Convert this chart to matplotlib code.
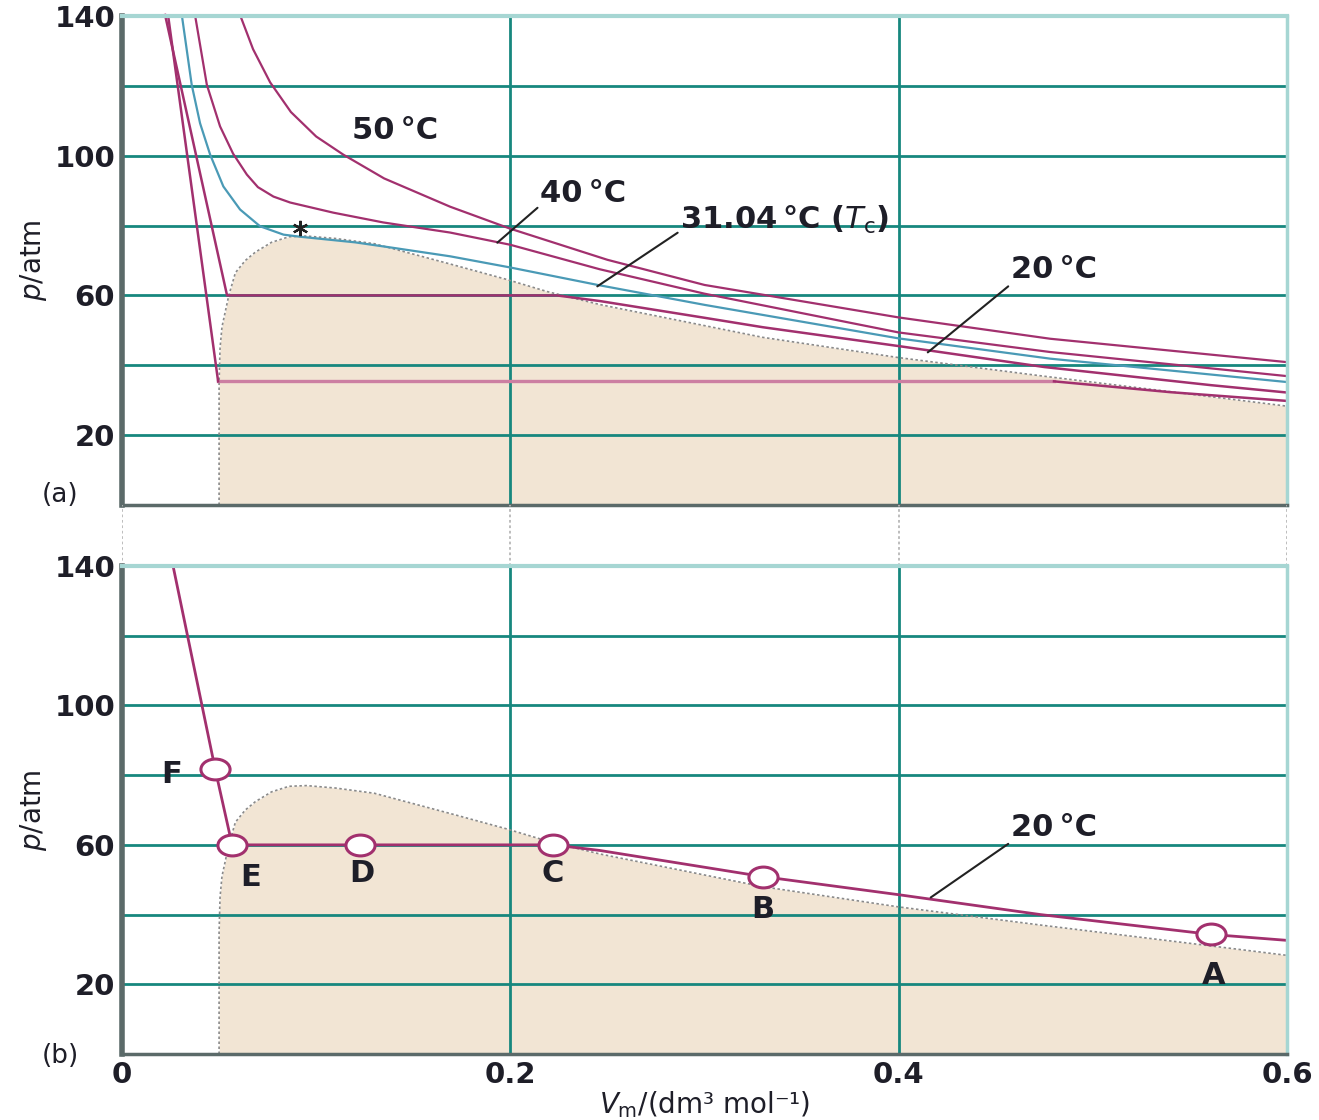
import matplotlib
matplotlib.use('Agg')
import matplotlib.pyplot as plt
from matplotlib.markers import MarkerStyle
from matplotlib.transforms import Affine2D

# CO2 isotherms (V_m in dm3/mol, p in atm)
v50 = [0.0608, 0.0675, 0.0763, 0.087, 0.100, 0.114, 0.135, 0.169, 0.200, 0.250, 0.300, 0.400, 0.478, 0.600]
p50 = [140.3, 130.5, 121.0, 112.5, 105.5, 100.3, 93.5, 85.4, 79.1, 70.2, 63.0, 53.7, 47.6, 40.9]

v40 = [0.0376, 0.0437, 0.0505, 0.0572, 0.0643, 0.0700, 0.0780, 0.0866, 0.1088, 0.1345, 0.169,
       0.200, 0.246, 0.300, 0.400, 0.478, 0.600]
p40 = [140.3, 120.3, 108.4, 100.6, 94.6, 91.0, 88.3, 86.6, 83.7, 80.9, 78.0,
       74.5, 67.5, 60.5, 49.4, 43.8, 36.9]

v31 = [0.0308, 0.0359, 0.0402, 0.0454, 0.0522, 0.0608, 0.0711, 0.0832, 0.0918, 0.120, 0.140,
       0.169, 0.200, 0.245, 0.300, 0.400, 0.478, 0.600]
p31 = [140.3, 120.3, 109.3, 100.3, 91.2, 84.6, 79.8, 77.4, 76.8, 75.2, 73.6,
       71.2, 68.0, 63.0, 57.3, 47.7, 41.9, 35.2]

v20 = [0.0222, 0.0541, 0.224, 0.246, 0.300, 0.330, 0.400, 0.475, 0.561, 0.600]
p20 = [140.3, 60.0, 60.0, 58.4, 53.6, 50.9, 45.5, 39.5, 34.3, 32.2]

# lowest isotherm of panel (a): steep branch, pale plateau, tail
v_low = [0.0237, 0.0495, 0.480, 0.540, 0.600]
p_low = [140.3, 35.4, 35.4, 32.3, 29.8]

# two-phase envelope
dome_v = [0.050, 0.050, 0.050, 0.0505, 0.0515, 0.055, 0.0584, 0.0635, 0.0687, 0.077, 0.086, 0.095,
          0.110, 0.130, 0.169, 0.198, 0.219, 0.246, 0.330, 0.400, 0.473, 0.561, 0.600]
dome_p = [0, 20, 35, 45, 51, 60, 66.5, 70.0, 72.4, 75.2, 76.8, 77.0,
          76.3, 74.8, 69.0, 64.6, 61.1, 57.4, 48.0, 42.2, 37.0, 31.0, 28.3]
crit_v, crit_p = 0.0918, 79.4

# panel (b): 20 C isotherm with the points A..F
v20b = [0.0263, 0.048, 0.0567, 0.1227, 0.222, 0.246, 0.330, 0.400, 0.473, 0.561, 0.600]
p20b = [140, 81.7, 60, 60, 60, 58.4, 50.9, 45.7, 40.0, 34.3, 32.6]
pts_v = [0.561, 0.330, 0.222, 0.1227, 0.0567, 0.048]
pts_p = [34.3, 50.9, 60, 60, 60, 81.7]
pts_lbl = ['A', 'B', 'C', 'D', 'E', 'F']
pts_lbl_v = [0.562, 0.330, 0.222, 0.1237, 0.066, 0.0258]
pts_lbl_p = [22.6, 41.4, 51.7, 51.7, 50.6, 80.3]

yticks = [20, 40, 60, 80, 100, 120, 140]
ylabels = ['20', '', '60', '', '100', '', '140']
xticks = [0, 0.2, 0.4, 0.6]

PURPLE = '#a2306e'
PINK = '#cc7fa2'
TEAL_CURVE = '#4a9ab6'
GRID = '#17877e'
LIGHT = '#a6d6d3'
SPINE = '#5b6a69'
FILL = '#f2e5d4'
TXT = '#1e1e28'

plt.rcParams['font.family'] = ['DejaVu Sans']
plt.rcParams['mathtext.fontset'] = 'dejavusans'

fig = plt.figure(figsize=(13.19, 11.20), dpi=100)
left, width = 122 / 1319, 1165 / 1319
ax1 = fig.add_axes([left, 1 - 505 / 1120, width, 489 / 1120])
gap = fig.add_axes([left, 1 - 566 / 1120, width, 61 / 1120])
ax2 = fig.add_axes([left, 1 - 1054 / 1120, width, 488 / 1120])


def style(ax, show_x):
    ax.set_xlim(0, 0.6)
    ax.set_ylim(0, 140)
    ax.set_yticks(yticks)
    ax.set_yticklabels(ylabels)
    ax.set_xticks(xticks)
    if show_x:
        ax.set_xticklabels(['0', '0.2', '0.4', '0.6'])
    else:
        ax.set_xticklabels([])
    ax.tick_params(length=0, labelsize=21, colors=TXT, pad=5)
    for lab in ax.get_yticklabels() + ax.get_xticklabels():
        lab.set_fontweight('bold')
    ax.set_axisbelow(True)
    ax.grid(True, color=GRID, lw=2.0)
    ax.spines['left'].set_color(SPINE)
    ax.spines['left'].set_linewidth(4)
    ax.spines['bottom'].set_color(SPINE)
    ax.spines['bottom'].set_linewidth(2.5)
    ax.spines['top'].set_color(LIGHT)
    ax.spines['top'].set_linewidth(3)
    ax.spines['right'].set_color(LIGHT)
    ax.spines['right'].set_linewidth(2.5)
    ax.fill_between(dome_v, dome_p, 0, color=FILL, lw=0, zorder=0.2)
    ax.plot(dome_v, dome_p, color='#8a8a8a', lw=1.2, ls=(0, (1.5, 1.5)), zorder=1.8)
    ax.set_ylabel('$p$/atm', fontsize=20, color=TXT, labelpad=4)


style(ax1, False)
style(ax2, True)

# panel (a)
ax1.plot(v_low[1:3], p_low[1:3], color=PINK, lw=2.4, zorder=2)
ax1.plot(v_low[:2], p_low[:2], color=PURPLE, lw=1.8, zorder=2.1)
ax1.plot(v_low[2:], p_low[2:], color=PURPLE, lw=1.8, zorder=2.1, clip_on=False)
ax1.plot(v20, p20, color=PURPLE, lw=1.8, zorder=2.1, clip_on=False)
ax1.plot(v31, p31, color=TEAL_CURVE, lw=1.6, zorder=2.1)
ax1.plot(v40, p40, color=PURPLE, lw=1.6, zorder=2.1)
ax1.plot(v50, p50, color=PURPLE, lw=1.6, zorder=2.1)
ax1.plot([crit_v], [crit_p], marker=(6, 2, 0), ms=11, mew=1.6, color='#222222', zorder=3)

lab_kw = dict(fontsize=22, fontweight='bold', color=TXT, va='center')
ax1.text(0.1407, 107.1, '50\u2009°C', ha='center', **lab_kw)
ax1.annotate('40\u2009°C', xy=(0.1933, 75.1), xytext=(0.2376, 89.1), ha='center',
             arrowprops=dict(arrowstyle='-', color='#222222', lw=1.5,
                             shrinkA=0, shrinkB=0, relpos=(0.0, 0.1)), **lab_kw)
ax1.annotate('31.04\u2009°C ($T_\\mathrm{c}$)', xy=(0.2448, 62.6), xytext=(0.2876, 81.7), ha='left',
             arrowprops=dict(arrowstyle='-', color='#222222', lw=1.5,
                             shrinkA=0, shrinkB=0, relpos=(0.0, 0.15)), **lab_kw)
ax1.annotate('20\u2009°C', xy=(0.415, 43.7), xytext=(0.480, 67.4), ha='center',
             arrowprops=dict(arrowstyle='-', color='#222222', lw=1.5,
                             shrinkA=0, shrinkB=0, relpos=(0.0, 0.0)), **lab_kw)
ax1.text(-0.053, 0.02, '(a)', transform=ax1.transAxes, fontsize=19, color=TXT,
         ha='center', va='center')

# gap between the panels: dotted continuations
gap.set_xlim(0, 0.6)
gap.set_ylim(0, 1)
gap.axis('off')
for xv in xticks:
    gap.axvline(xv, color='#b8b8b8', lw=1.3, ls=(0, (1.5, 1.5)))

# panel (b)
ax2.plot(v20b, p20b, color=PURPLE, lw=2.0, zorder=2.1)
ell = MarkerStyle('o', transform=Affine2D().scale(1.4, 1.0))
ax2.plot(pts_v, pts_p, ls='none', marker=ell, ms=15, mfc='white', mec=PURPLE, mew=2.2, zorder=3)
for name, xv, yv in zip(pts_lbl, pts_lbl_v, pts_lbl_p):
    ax2.text(xv, yv, name, ha='center', **lab_kw)
ax2.annotate('20\u2009°C', xy=(0.4165, 44.9), xytext=(0.480, 65.0), ha='center',
             arrowprops=dict(arrowstyle='-', color='#222222', lw=1.5,
                             shrinkA=0, shrinkB=0, relpos=(0.0, 0.0)), **lab_kw)
ax2.text(-0.053, -0.004, '(b)', transform=ax2.transAxes, fontsize=19, color=TXT,
         ha='center', va='center')
ax2.set_xlabel('$V_\\mathrm{m}$/(dm³ mol⁻¹)', fontsize=20, color=TXT, labelpad=0)

fig.savefig('out.png', dpi=100)
